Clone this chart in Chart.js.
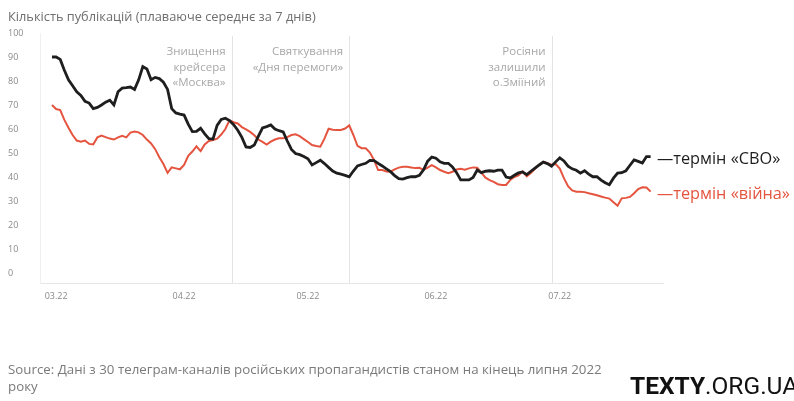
<!DOCTYPE html>
<html>
<head>
<meta charset="utf-8">
<script src="https://cdn.jsdelivr.net/npm/chart.js@4.4.0/dist/chart.umd.min.js"></script>
<style>
  html, body { margin: 0; padding: 0; background: #fff; }
  #wrap { width: 794px; height: 401px; position: relative; overflow: hidden; }
</style>
</head>
<body>
<div id="wrap"><canvas id="c" width="794" height="401"></canvas></div>
<script>
// ---- data (one point per day, first point = 28.02.2022, day index -1 relative to 01.03) ----
const firstDay = -1;
const svo = [
  90, 90, 89, 84.5, 80.5, 78, 75.5, 74, 71.5, 70.8, 68.5,
  69, 70, 71.2, 72, 70, 75.5, 77, 77.2, 77.5, 76.5,
  80.5, 86, 85, 80.5, 81.5, 81, 79.5, 76.5, 68.5, 66.7,
  66.2, 65.8, 62, 58.9, 59, 60.3, 58, 56, 55.8, 61.5,
  64, 64.5, 63.5, 61.8, 59.5, 56.5, 52.5, 52.3, 53.3, 57,
  60.5, 61, 61.7, 60, 59.3, 58.8, 55, 51.5, 49.8, 49.3,
  48.5, 47.6, 45, 46, 47, 45.6, 44, 42.5, 41.6, 41.2,
  40.7, 40.1, 42.5, 44.6, 45.2, 45.7, 46.9, 46.8, 45.7, 44.6,
  43.4, 42.2, 40.6, 39.3, 39.1, 39.7, 40.1, 40.1, 40.7, 43,
  46.6, 48.3, 47.8, 46.3, 45.7, 45.7, 44.2, 41.8, 38.8, 38.8,
  38.8, 39.8, 42.9, 41.8, 42.4, 42.6, 42.4, 42.9, 42.9, 40,
  39.6, 40.7, 41.7, 42.1, 41, 42.4, 43.7, 45, 46.2, 45.6,
  44.5, 46.3, 48, 46.7, 44.5, 43.4, 42.8, 41.6, 42.6, 41.2,
  40.1, 40.1, 38.7, 37.6, 36.8, 39.5, 41.6, 41.8, 42.6, 44.9,
  47.1, 46.5, 45.8, 48.5, 48.5
];
const viyna = [
  70, 68.3, 67.9, 63.8, 60.5, 57.5, 55.2, 54.7, 55.2, 53.8, 53.6,
  56.5, 57.3, 56.6, 56, 55.6, 56.5, 57.2, 56.5, 58.5, 58.9,
  58.6, 57.5, 55.6, 54, 51.6, 48.2, 45.4, 41.7, 44, 43.6,
  43.2, 45, 48.8, 50.6, 52.8, 50.8, 53.6, 55, 55.4, 56,
  57.7, 60, 63.6, 62.8, 62.3, 60.8, 59.8, 58.8, 57.4, 55.6,
  54.6, 53.5, 54.7, 55.6, 56.1, 56.1, 56.6, 57.5, 57.8, 57,
  55.8, 54.6, 53.3, 52.9, 52.6, 56, 60.1, 59.7, 59.6, 59.6,
  60.2, 61.5, 57.5, 53, 52, 52, 50.2, 47.1, 42.9, 42.9,
  42.3, 42.2, 43.2, 43.9, 44.3, 44.3, 44, 43.7, 43.8, 43,
  43.9, 44.9, 44, 42.9, 42.2, 41.6, 42.2, 43.1, 43.4, 43,
  43.6, 44, 43.9, 41.8, 39.7, 38.7, 38, 37, 36.7, 36.7,
  38.8, 40, 40.7, 42.3, 40.3, 41.7, 43.4, 45, 46.3, 45.7,
  45.1, 45.4, 43.5, 39.5, 36.2, 34.4, 33.9, 33.9, 33.7, 33.2,
  32.8, 32.4, 31.9, 31.4, 31, 29.5, 28, 31.1, 31.3, 31.7,
  33.2, 35, 35.7, 35.6, 33.9
];
const monthTicks = [0, 31, 61, 92, 122];
const monthLabels = ['03.22', '04.22', '05.22', '06.22', '07.22'];
const yTicks = [0, 10, 20, 30, 40, 50, 60, 70, 80, 90, 100];
const eventDays = [42.5, 71, 120];
const eventLabels = [
  ['Знищення', 'крейсера', '«Москва»'],
  ['Святкування', '«Дня перемоги»'],
  ['Росіяни', 'залишили', 'о.Зміїний']
];
const seriesNames = ['термін «СВО»', 'термін «війна»'];
const titleText = 'Кількість публікацій (плаваюче середнє за 7 днів)';
const sourceLines = ['Source: Дані з 30 телеграм-каналів російських пропагандистів станом на кінець липня 2022', 'року'];

const BLACK = '#1e1e1e';
const RED = '#e4543f';
const FONT = '"Open Sans", "Noto Sans", sans-serif';

const toPoints = arr => arr.map((v, i) => ({ x: firstDay + i, y: v }));

const overlay = {
  id: 'overlay',
  beforeDatasetsDraw(chart) {
    const { ctx, chartArea, scales } = chart;
    ctx.save();
    ctx.strokeStyle = '#e3e3e3';
    ctx.lineWidth = 1;
    eventDays.forEach(d => {
      const x = Math.round(scales.x.getPixelForValue(d)) + 0.5;
      ctx.beginPath();
      ctx.moveTo(x, chartArea.top + 3);
      ctx.lineTo(x, chartArea.bottom);
      ctx.stroke();
    });
    ctx.fillStyle = '#a8a8a8';
    ctx.font = '11.5px ' + FONT;
    ctx.textAlign = 'right';
    ctx.textBaseline = 'middle';
    eventDays.forEach((d, k) => {
      const x = scales.x.getPixelForValue(d) - 6;
      eventLabels[k].forEach((t, j) => ctx.fillText(t, x, 52 + j * 15.5));
    });
    ctx.restore();
  },
  afterDraw(chart) {
    const { ctx, chartArea, scales } = chart;
    ctx.save();
    // title
    ctx.fillStyle = '#6e6e6e';
    ctx.font = '12.8px ' + FONT;
    ctx.textAlign = 'left';
    ctx.textBaseline = 'middle';
    ctx.fillText(titleText, 8, 17);
    // series labels
    ctx.font = '16.3px ' + FONT;
    const lasts = [svo[svo.length - 1], viyna[viyna.length - 1]];
    const cols = [BLACK, RED];
    lasts.forEach((v, k) => {
      const y = scales.y.getPixelForValue(v) + 3;
      ctx.fillStyle = cols[k];
      ctx.fillText('—' + seriesNames[k], chartArea.right - 6, y);
    });
    // source
    ctx.fillStyle = '#7a7a7a';
    ctx.font = '13.3px ' + FONT;
    ctx.fillText(sourceLines[0], 8, 370);
    ctx.fillText(sourceLines[1], 8, 387);
    // logo
    ctx.fillStyle = '#111';
    ctx.textBaseline = 'alphabetic';
    ctx.font = 'bold 24.5px Roboto, sans-serif';
    ctx.fillText('TEXTY', 630, 394);
    const w = ctx.measureText('TEXTY').width;
    ctx.font = '24.5px Roboto, sans-serif';
    ctx.fillText('.ORG.UA', 630 + w, 394);
    ctx.restore();
  }
};

new Chart(document.getElementById('c'), {
  type: 'line',
  data: {
    datasets: [
      { label: seriesNames[0], data: toPoints(svo), borderColor: BLACK, borderWidth: 2.8, pointRadius: 0, tension: 0 },
      { label: seriesNames[1], data: toPoints(viyna), borderColor: RED, borderWidth: 2, pointRadius: 0, tension: 0 }
    ]
  },
  options: {
    responsive: false,
    animation: false,
    events: [],
    layout: { padding: { left: 8, top: 33, right: 131, bottom: 0 } },
    plugins: { legend: { display: false }, tooltip: { enabled: false } },
    scales: {
      x: {
        type: 'linear',
        min: -3.9,
        max: 147,
        grid: { display: false, drawTicks: false },
        border: { display: true, color: '#e6e6e6', width: 1 },
        afterBuildTicks: s => { s.ticks = monthTicks.map(v => ({ value: v })); },
        afterFit: s => { s.height = 118; },
        ticks: {
          autoSkip: false,
          maxRotation: 0,
          padding: 8,
          color: '#8a8a8a',
          font: { family: FONT, size: 9 },
          callback: v => monthLabels[monthTicks.indexOf(v)]
        }
      },
      y: {
        type: 'linear',
        min: -4.17,
        max: 100,
        grid: { display: false, drawTicks: false },
        border: { display: true, color: '#f0f0f0', width: 1 },
        afterBuildTicks: s => { s.ticks = yTicks.map(v => ({ value: v })); },
        afterFit: s => { s.width = 32; },
        ticks: {
          crossAlign: 'far',
          color: '#8a8a8a',
          font: { family: FONT, size: 9 }
        }
      }
    }
  },
  plugins: [overlay]
});
</script>
</body>
</html>
